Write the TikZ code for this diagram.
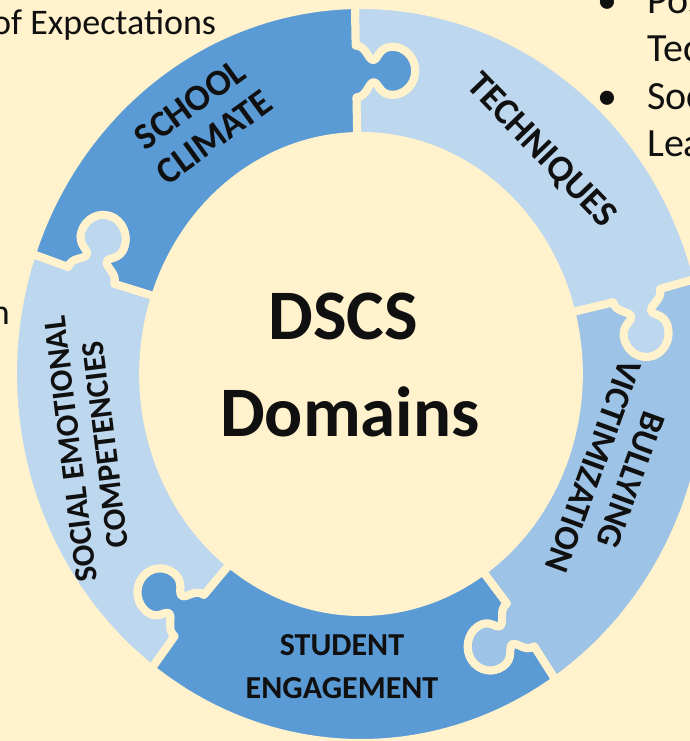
\documentclass[tikz,border=0pt]{standalone}
\usepackage{fontspec}
\setmainfont{Carlito}
\usepackage{graphicx}
\definecolor{bgcream}{HTML}{FFF2CC}
\definecolor{darkblue}{HTML}{5B9BD5}
\definecolor{lightblue}{HTML}{BDD7EE}
\definecolor{midblue}{HTML}{9DC3E6}
\definecolor{ink}{HTML}{101010}

\newcommand\rmid{0.82}
\newcommand\rix{0.626}
\newcommand\riy{0.645}
% knob leaving the boundary at angle #1 towards smaller angles, traversed from inner side to outer side
\newcommand\tabup[1]{%
 .. controls ([rotate=#1]\rmid-0.07,-0.03) and ([rotate=#1]\rmid-0.03,-0.035) .. ([rotate=#1]\rmid-0.03,-0.05)
 .. controls ([rotate=#1]\rmid-0.03,-0.065) and ([rotate=#1]\rmid-0.065,-0.065) .. ([rotate=#1]\rmid-0.065,-0.105)
 .. controls ([rotate=#1]\rmid-0.065,-0.14) and ([rotate=#1]\rmid-0.036,-0.17) .. ([rotate=#1]\rmid,-0.17)
 .. controls ([rotate=#1]\rmid+0.036,-0.17) and ([rotate=#1]\rmid+0.065,-0.14) .. ([rotate=#1]\rmid+0.065,-0.105)
 .. controls ([rotate=#1]\rmid+0.065,-0.065) and ([rotate=#1]\rmid+0.03,-0.065) .. ([rotate=#1]\rmid+0.03,-0.05)
 .. controls ([rotate=#1]\rmid+0.03,-0.035) and ([rotate=#1]\rmid+0.07,-0.03) .. ([rotate=#1]\rmid+0.07,0)}
% same knob traversed from outer side to inner side (socket)
\newcommand\tabdown[1]{%
 .. controls ([rotate=#1]\rmid+0.07,-0.03) and ([rotate=#1]\rmid+0.03,-0.035) .. ([rotate=#1]\rmid+0.03,-0.05)
 .. controls ([rotate=#1]\rmid+0.03,-0.065) and ([rotate=#1]\rmid+0.065,-0.065) .. ([rotate=#1]\rmid+0.065,-0.105)
 .. controls ([rotate=#1]\rmid+0.065,-0.14) and ([rotate=#1]\rmid+0.036,-0.17) .. ([rotate=#1]\rmid,-0.17)
 .. controls ([rotate=#1]\rmid-0.036,-0.17) and ([rotate=#1]\rmid-0.065,-0.14) .. ([rotate=#1]\rmid-0.065,-0.105)
 .. controls ([rotate=#1]\rmid-0.065,-0.065) and ([rotate=#1]\rmid-0.03,-0.065) .. ([rotate=#1]\rmid-0.03,-0.05)
 .. controls ([rotate=#1]\rmid-0.03,-0.035) and ([rotate=#1]\rmid-0.07,-0.03) .. ([rotate=#1]\rmid-0.07,0)}
\newcommand\puzzlepiece[3]{%
 \pgfmathsetmacro\pa{#1}\pgfmathsetmacro\pb{#2}%
 \filldraw[piece, fill=#3] ([rotate=\pa]1,0) arc[start angle=\pa, end angle=\pb, radius=1]
   -- ([rotate=\pb]\rmid+0.07,0) \tabdown{\pb} -- ({\rix*cos(\pb)},{\riy*sin(\pb)})
   arc[start angle=\pb, end angle=\pa, x radius=\rix, y radius=\riy]
   -- ([rotate=\pa]\rmid-0.07,0) \tabup{\pa} -- cycle;}

\begin{document}
\begin{tikzpicture}[x=1pt,y=1pt,
  piece/.style={draw=bgcream, line width=8pt, line join=round},
  ringlabel/.style={text=ink, align=center, inner sep=0pt},
  sidetext/.style={text=ink, inner sep=0pt}]
\useasboundingbox (-361,-367) rectangle (329,374);
\clip (-361,-367) rectangle (329,374);
\fill[bgcream] (-361,-367) rectangle (329,374);

\begin{scope}[xscale=348, yscale=369]
 \puzzlepiece{15}{91}{lightblue}
 \puzzlepiece{91}{161}{darkblue}
 \puzzlepiece{161}{233}{lightblue}
 \puzzlepiece{233}{304}{darkblue}
 \puzzlepiece{-56}{15}{midblue}
\end{scope}

\node[ringlabel, rotate=36, font=\bfseries\fontsize{37}{41}\selectfont] (school) at (-159,253) {SCHOOL\\CLIMATE};
\node[ringlabel, rotate=-46, font=\bfseries\fontsize{37}{41}\selectfont] (tech) at (180,223) {TECHNIQUES};
\node[ringlabel, rotate=-110, font=\bfseries\fontsize{35}{40}\selectfont] (bully) at (251,-99) {BULLYING\\VICTIMIZATION};
\node[ringlabel, font=\bfseries\fontsize{32}{43}\selectfont] (student) at (-19,-292.5) {STUDENT\\ENGAGEMENT};
\node[ringlabel, rotate=97, font=\bfseries\fontsize{32}{35}\selectfont] (sec) at (-273,-73) {SOCIAL EMOTIONAL\\COMPETENCIES};

\node[text=ink, anchor=base, font=\bfseries\fontsize{71}{84}\selectfont] (dscs) at (-18,34) {DSCS};
\node[text=ink, anchor=base, font=\bfseries\fontsize{71}{84}\selectfont] (domains) at (-11,-63) {Domains};

\node[sidetext, anchor=base west, font=\fontsize{36}{42}\selectfont] (expect) at (-369,339) {of Expectations};
\node[sidetext, anchor=base east, font=\fontsize{36}{42}\selectfont] (nn) at (-351,49) {n};
\node[sidetext, anchor=base, font=\fontsize{40}{48}\selectfont] (bulletA) at (246,360) {•};
\node[sidetext, anchor=base, font=\fontsize{40}{48}\selectfont] (bulletB) at (246,264) {•};
\node[sidetext, anchor=base west, font=\fontsize{40}{48}\selectfont] (pos) at (286,360) {Pos};
\node[sidetext, anchor=base west, font=\fontsize{40}{48}\selectfont] (tec) at (286,312) {Tec};
\node[sidetext, anchor=base west, font=\fontsize{40}{48}\selectfont] (soc) at (286,264) {Soc};
\node[sidetext, anchor=base west, font=\fontsize{40}{48}\selectfont] (lea) at (286,217) {Lea};
\end{tikzpicture}
\end{document}
